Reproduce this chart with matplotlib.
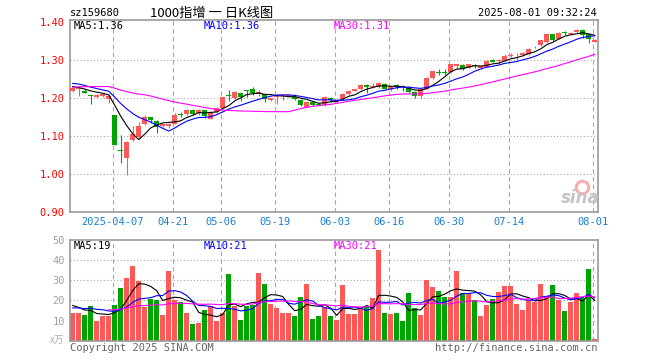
import numpy as np
import pandas as pd
import matplotlib
matplotlib.use("Agg")
import matplotlib.pyplot as plt

plt.rcParams['font.family'] = ['DejaVu Sans Mono', 'Noto Sans CJK SC']

# daily candles 2025-03-26 .. 2025-08-01
opens = [1.217, 1.222, 1.219, 1.208, 1.201, 1.204, 1.196, 1.156, 1.063, 1.042,
         1.088, 1.097, 1.130, 1.149, 1.140, 1.126, 1.126, 1.132, 1.157, 1.158,
         1.167, 1.160, 1.169, 1.145, 1.162, 1.174, 1.207, 1.200, 1.213, 1.219,
         1.222, 1.209, 1.210, 1.193, 1.202, 1.204, 1.205, 1.203, 1.193, 1.176,
         1.189, 1.184, 1.180, 1.200, 1.190, 1.196, 1.210, 1.219, 1.222, 1.235,
         1.228, 1.228, 1.237, 1.222, 1.234, 1.229, 1.225, 1.215, 1.204, 1.224,
         1.252, 1.267, 1.267, 1.268, 1.285, 1.287, 1.279, 1.287, 1.279, 1.281,
         1.299, 1.297, 1.298, 1.311, 1.312, 1.313, 1.315, 1.333, 1.338, 1.346,
         1.367, 1.355, 1.372, 1.367, 1.373, 1.379, 1.368, 1.348]
highs = [1.228, 1.231, 1.223, 1.208, 1.211, 1.213, 1.211, 1.156, 1.101, 1.085,
         1.127, 1.136, 1.154, 1.149, 1.141, 1.132, 1.134, 1.160, 1.162, 1.170,
         1.170, 1.170, 1.169, 1.164, 1.176, 1.203, 1.221, 1.218, 1.213, 1.220,
         1.229, 1.221, 1.210, 1.200, 1.210, 1.208, 1.208, 1.210, 1.196, 1.190,
         1.190, 1.186, 1.205, 1.202, 1.197, 1.212, 1.220, 1.224, 1.236, 1.236,
         1.240, 1.241, 1.238, 1.232, 1.236, 1.234, 1.232, 1.217, 1.226, 1.254,
         1.270, 1.275, 1.275, 1.290, 1.290, 1.290, 1.290, 1.290, 1.285, 1.300,
         1.301, 1.303, 1.315, 1.317, 1.317, 1.322, 1.330, 1.336, 1.352, 1.368,
         1.368, 1.373, 1.375, 1.374, 1.380, 1.380, 1.369, 1.354]
lows = [1.215, 1.204, 1.212, 1.184, 1.200, 1.203, 1.186, 1.075, 1.029, 0.996,
        1.086, 1.095, 1.128, 1.134, 1.108, 1.123, 1.121, 1.130, 1.150, 1.156,
        1.156, 1.156, 1.148, 1.143, 1.160, 1.174, 1.191, 1.198, 1.191, 1.202,
        1.208, 1.205, 1.190, 1.191, 1.184, 1.195, 1.203, 1.193, 1.179, 1.175,
        1.178, 1.180, 1.179, 1.190, 1.186, 1.195, 1.208, 1.217, 1.220, 1.212,
        1.226, 1.226, 1.222, 1.218, 1.224, 1.217, 1.213, 1.200, 1.200, 1.223,
        1.250, 1.259, 1.259, 1.266, 1.276, 1.273, 1.278, 1.278, 1.277, 1.280,
        1.294, 1.290, 1.297, 1.304, 1.300, 1.311, 1.314, 1.330, 1.336, 1.345,
        1.350, 1.354, 1.366, 1.366, 1.372, 1.358, 1.344, 1.347]
closes = [1.225, 1.225, 1.213, 1.204, 1.208, 1.210, 1.204, 1.077, 1.060, 1.083,
          1.104, 1.125, 1.149, 1.142, 1.123, 1.130, 1.132, 1.156, 1.156, 1.167,
          1.158, 1.168, 1.152, 1.162, 1.174, 1.202, 1.206, 1.215, 1.202, 1.218,
          1.213, 1.215, 1.197, 1.200, 1.204, 1.208, 1.207, 1.196, 1.180, 1.189,
          1.182, 1.181, 1.203, 1.193, 1.195, 1.210, 1.219, 1.222, 1.235, 1.228,
          1.232, 1.239, 1.224, 1.229, 1.228, 1.228, 1.215, 1.204, 1.222, 1.253,
          1.270, 1.266, 1.266, 1.288, 1.288, 1.276, 1.288, 1.283, 1.283, 1.298,
          1.295, 1.298, 1.311, 1.312, 1.313, 1.319, 1.328, 1.334, 1.351, 1.367,
          1.351, 1.371, 1.371, 1.371, 1.379, 1.366, 1.355, 1.353]
volumes = [13.7, 13.7, 13.0, 17.0, 10.0, 12.5, 12.5, 17.5, 26.2, 31.0,
           37.2, 29.5, 16.7, 20.5, 20.0, 13.0, 34.5, 20.0, 19.0, 14.0,
           8.5, 9.0, 15.0, 17.0, 10.0, 14.0, 33.0, 17.0, 10.5, 17.0,
           17.5, 33.8, 28.0, 18.0, 16.0, 14.0, 14.0, 12.5, 21.5, 28.0,
           11.0, 12.5, 16.5, 12.5, 10.5, 27.5, 13.5, 13.5, 15.5, 17.3,
           21.0, 45.0, 14.0, 13.5, 14.0, 10.0, 23.5, 16.0, 13.0, 30.0,
           26.5, 24.5, 21.5, 21.5, 34.5, 23.5, 23.5, 20.0, 12.5, 17.5,
           20.5, 24.0, 27.0, 27.0, 18.0, 15.0, 20.0, 19.0, 28.0, 22.0,
           27.5, 20.3, 14.5, 19.0, 23.5, 21.0, 35.5, 0.8]

# earlier history, estimated from where the moving averages start
prev_closes = [1.195, 1.200, 1.198, 1.205, 1.210, 1.202, 1.208, 1.212, 1.206, 1.210,
               1.212, 1.202, 1.240, 1.246, 1.252, 1.258, 1.255, 1.250, 1.249, 1.248,
               1.242, 1.250, 1.248, 1.246, 1.245, 1.238, 1.233, 1.229, 1.224]
prev_volumes = [16.0, 14.5, 15.0, 17.5, 16.0, 14.0, 15.5, 13.5, 16.5, 15.0,
                17.0, 15.5, 16.0, 15.3, 14.0, 16.5, 15.0, 15.5, 14.5, 18.5,
                19.5, 17.8, 18.0]

date_idx = [7, 17, 25, 34, 44, 53, 63, 73, 87]
date_labels = ["2025-04-07", "04-21", "05-06", "05-19", "06-03",
               "06-16", "06-30", "07-14", "08-01"]
price_legend = ["MA5:1.36", "MA10:1.36", "MA30:1.31"]
vol_legend = ["MA5:19", "MA10:21", "MA30:21"]

RED = '#ff5858'
GREEN = '#00a400'
GRID = '#a8a8a8'
W, H = 660, 360

o = np.array(opens)
h = np.array(highs)
l = np.array(lows)
c = np.array(closes)
v = np.array(volumes)
x = np.arange(len(c))
up = c >= o
cols = np.where(up, RED, GREEN)

full_c = pd.Series(prev_closes + closes)
n0 = len(prev_closes)
ma_c = [full_c.rolling(k).mean().values[n0:] for k in (5, 10, 30)]
full_v = pd.Series(prev_volumes + volumes)
m0 = len(prev_volumes)
ma_v = [full_v.rolling(k).mean().values[m0:] for k in (5, 10, 30)]
ma_cols = ['black', '#0000ff', '#ff00ff']

fig = plt.figure(figsize=(W / 100, H / 100), dpi=100)
ax1 = fig.add_axes([70.3 / W, 1 - 211.7 / H, 527.4 / W, 191.7 / H])
ax2 = fig.add_axes([70.3 / W, 1 - 340.7 / H, 527.4 / W, 100.7 / H])

for ax in (ax1, ax2):
    ax.set_xlim(-0.4, 87.5)
    for s in ax.spines.values():
        s.set_color('#999999')
        s.set_linewidth(1.2)
    for d in date_idx:
        ax.axvline(d - 0.33, color=GRID, lw=0.8, ls=(0, (4, 3)), zorder=0)
    ax.tick_params(length=0, pad=4, labelsize=7.5)

# price panel
ax1.set_ylim(0.90, 1.405)
ax1.set_yticks([0.9, 1.0, 1.1, 1.2, 1.3, 1.4])
ax1.set_yticklabels(['%.2f' % t for t in [0.9, 1.0, 1.1, 1.2, 1.3, 1.4]], color='red')
for t in [1.0, 1.1, 1.2, 1.3]:
    ax1.axhline(t, color=GRID, lw=0.8, ls=(0, (1, 2)), zorder=0)
ax1.vlines(x, l, h, colors=cols, lw=0.8, zorder=2)
body = np.maximum(np.abs(c - o), 0.0015)
ax1.bar(x, body, bottom=np.minimum(o, c), width=0.78, color=cols, zorder=3)
for m, col in zip(ma_c, ma_cols):
    ax1.plot(x, m, color=col, lw=0.8, zorder=4)
ax1.set_xticks([d - 0.33 for d in date_idx])
ax1.set_xticklabels(date_labels, color='#1a80cc')

# volume panel
ax2.set_ylim(0, 50)
ax2.set_yticks([10, 20, 30, 40, 50])
ax2.set_yticklabels(['10', '20', '30', '40', '50'], color='#a0a0a0')
for t in [10, 20, 30, 40]:
    ax2.axhline(t, color=GRID, lw=0.8, ls=(0, (1, 2)), zorder=0)
ax2.bar(x, v, width=0.78, color=cols, zorder=2)
for m, col in zip(ma_v, ma_cols):
    ax2.plot(x, m, color=col, lw=0.8, zorder=3)
ax2.set_xticks([])


def ftext(px, py, s, **kw):
    fig.text(px / W, 1 - py / H, s, **kw)


ftext(70, 13, "sz159680", fontsize=7.5, va='center')
ftext(150, 13, "1000指增 一 日K线图", fontsize=9.5, va='center',
      family=['Noto Sans CJK SC', 'DejaVu Sans'])
ftext(597, 13, "2025-08-01 09:32:24", fontsize=7.5, va='center', ha='right')
for px, s, col in zip([74, 204, 334], price_legend, ma_cols):
    ftext(px, 26, s, fontsize=7.5, va='center', color=col)
for px, s, col in zip([74, 204, 334], vol_legend, ma_cols):
    ftext(px, 246, s, fontsize=7.5, va='center', color=col)
ftext(64, 340, "x万", fontsize=7, va='center', ha='right', color='#b0b0b0',
      family=['Noto Sans CJK SC', 'DejaVu Sans'])
ftext(70, 348, "Copyright 2025 SINA.COM", fontsize=7.5, va='center', color='#666666')
ftext(597, 348, "http://finance.sina.com.cn", fontsize=7.5, va='center',
      ha='right', color='#666666')

# sina watermark
fig.lines.append(plt.Line2D([582 / W], [1 - 187 / H], marker='o', ms=9, mfc='none',
                            mec='#f4b0b0', mew=2.2, transform=fig.transFigure))
ftext(580, 198, "sina", fontsize=12, va='center', ha='center', color='#c4c4c4',
      style='italic', weight='bold', family='DejaVu Sans')

fig.savefig('out.png', dpi=100)
